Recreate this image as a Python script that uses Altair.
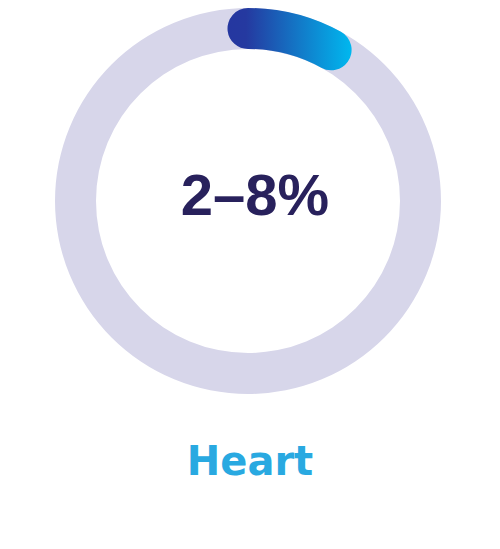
import math
import altair as alt
import pandas as pd

# --- data ---
ring_start = [0]
ring_end = [100]
share_start = [0]
share_end = [8]
label_main = ["2–8%"]
label_organ = ["Heart"]

# --- layout / style ---
W, H = 484, 533
CX, CY = 240, 193
R_OUT, R_IN = 193, 152
half = (R_OUT - R_IN) / 2
mid = (R_OUT + R_IN) / 2
cap_pct = math.degrees(math.asin(half / mid)) / 3.6  # round-cap extension in % units

theta_scale = alt.Scale(domain=[0, 100], range=[0, 2 * math.pi])

bg_df = pd.DataFrame({"a0": ring_start, "a1": ring_end})
fg_df = pd.DataFrame({"a0": share_start, "a1": share_end})
fg_df["s"] = fg_df["a0"] - cap_pct
fg_df["e"] = fg_df["a1"] + cap_pct

bg = alt.Chart(bg_df).mark_arc(radius=R_OUT, radius2=R_IN, color="#D7D6EA").encode(
    theta=alt.Theta("a0:Q", scale=theta_scale),
    theta2="a1:Q",
    x=alt.value(CX),
    y=alt.value(CY),
)

grad = alt.Gradient(
    gradient="linear",
    stops=[
        alt.GradientStop(color="#2537A0", offset=0),
        alt.GradientStop(color="#2539A0", offset=0.15),
        alt.GradientStop(color="#00B8EF", offset=1),
    ],
    x1=0, x2=1, y1=0, y2=0,
)

fg = alt.Chart(fg_df).mark_arc(radius=R_OUT, radius2=R_IN, cornerRadius=40, color=grad).encode(
    theta=alt.Theta("s:Q", scale=theta_scale),
    theta2="e:Q",
    x=alt.value(CX),
    y=alt.value(CY),
)

main_txt = alt.Chart(pd.DataFrame({"t": label_main})).mark_text(
    font="Liberation Sans", fontSize=58, fontWeight="bold", color="#28215C",
    align="center", baseline="alphabetic",
).encode(text="t:N", x=alt.value(247), y=alt.value(207))

organ_txt = alt.Chart(pd.DataFrame({"t": label_organ})).mark_text(
    font="DejaVu Sans", fontSize=40, fontWeight="bold", color="#29A9E1",
    align="center", baseline="alphabetic",
).encode(text="t:N", x=alt.value(242), y=alt.value(467))

chart = alt.layer(bg, fg, main_txt, organ_txt).properties(
    width=W, height=H,
    autosize=alt.AutoSizeParams(type="none"),
    padding=0,
).configure_view(stroke=None)

chart.save("out.html", embed_options={"renderer": "svg", "actions": False})
